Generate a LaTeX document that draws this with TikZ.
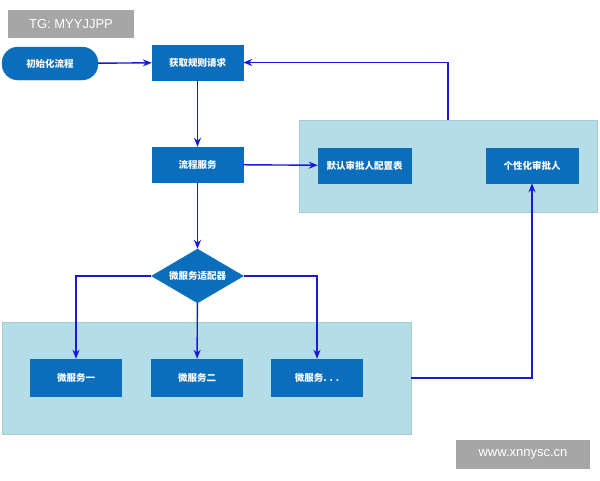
\documentclass[tikz,border=0pt]{standalone}
\usepackage{fontspec}
\setmainfont{Liberation Sans}
\newfontfamily\cjk{Noto Sans CJK SC}
\usetikzlibrary{shapes.geometric,arrows.meta}
\definecolor{boxblue}{HTML}{0A6EBD}
\definecolor{panelblue}{HTML}{B5DDE8}
\definecolor{arrowblue}{HTML}{1A1AD6}
\definecolor{tagrey}{HTML}{A6A6A6}
\begin{document}
\begin{tikzpicture}[x=1pt,y=-1pt,
    proc/.style={draw=boxblue,fill=boxblue,text=white,font=\cjk\fontsize{9.5}{11}\selectfont\bfseries,
      minimum width=91pt,minimum height=35pt,inner sep=0pt},
    panel/.style={draw=panelblue!80!gray,fill=panelblue},
    flow/.style={draw=arrowblue,line width=1.4pt,-{Stealth[length=9pt,width=7pt]}},
    tag/.style={fill=tagrey,text=white,font=\fontsize{13}{15}\selectfont,inner sep=0pt}]

  \useasboundingbox (0,0) rectangle (600,480);

  % Panels
  \draw [panel] (299,120) rectangle (597,212);
  \draw [panel] (2,322) rectangle (411,434);
  \coordinate (ptop) at (448,120);
  \coordinate (pright) at (411,378);

  % Nodes
  \node [proc,rounded corners=16pt,minimum width=96pt,minimum height=33pt] (init) at (50,63.5) {初始化流程};
  \node [proc] (rule) at (197.5,62.5) {获取规则请求};
  \node [proc] (svc) at (197.5,164.5) {流程服务};
  \node [proc,minimum width=93pt] (dflt) at (364.5,165.5) {默认审批人配置表};
  \node [proc,minimum width=92pt] (pers) at (532,165.5) {个性化审批人};
  \node [proc,diamond,aspect=1.7,minimum width=92pt,minimum height=54pt] (adapt) at (197.5,276) {微服务适配器};
  \node [proc,minimum height=37pt] (ms1) at (76,377.5) {微服务一};
  \node [proc,minimum height=37pt] (ms2) at (197,377.5) {微服务二};
  \node [proc,minimum height=37pt] (ms3) at (317,377.5) {微服务. . .};

  % Connectors
  \draw [flow] (init) -- (rule);
  \draw [flow] (rule) -- (svc);
  \draw [flow] (svc) -- (dflt);
  \draw [flow] (ptop) |- (rule.east);
  \draw [flow] (svc) -- (adapt);
  \draw [flow] (adapt.west) -| (ms1.north);
  \draw [flow] (adapt) -- (ms2);
  \draw [flow] (adapt.east) -| (ms3.north);
  \draw [flow] (pright) -| (pers.south);

  % Tags
  \node [tag,minimum width=126pt,minimum height=28pt] (tg) at (71,24) {TG: MYYJJPP};
  \node [tag,minimum width=134pt,minimum height=29pt] (web) at (523,454.5) {www.xnnysc.cn};

\end{tikzpicture}
\end{document}
